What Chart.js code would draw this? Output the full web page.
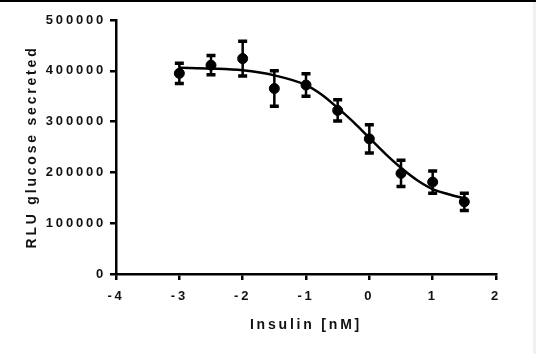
<!DOCTYPE html>
<html>
<head>
<meta charset="utf-8">
<script src="https://cdn.jsdelivr.net/npm/chart.js@4.4.0/dist/chart.umd.min.js"></script>
<style>
  body { margin: 0; background: #fff; }
  #wrap { position: relative; width: 536px; height: 354px; }
  #topline { position: absolute; left: 0; top: 0; width: 536px; height: 2px; background: #000; }
  #rightedge { position: absolute; right: 0; top: 2px; width: 3px; height: 352px; background: #f0f0f0; }
</style>
</head>
<body>
<div id="wrap">
  <canvas id="myChart" width="536" height="354"></canvas>
  <div id="topline"></div>
  <div id="rightedge"></div>
</div>
<script>
// measured points (log insulin dose) with error bars
const xDose = [-3, -2.5, -2, -1.5, -1, -0.5, 0, 0.5, 1, 1.5];
const meanRLU = [395000, 411000, 424000, 365000, 372000, 322000, 266000, 198000, 181000, 142000];
const errRLU = [20000, 19000, 34000, 35000, 22000, 21000, 28000, 26000, 22000, 17000];

// fitted curve
const fitX = [-3, -2.5, -2, -1.5, -1, -0.75, -0.5, -0.25, 0, 0.25, 0.5, 0.75, 1, 1.25, 1.5];
const fitY = [406000, 404500, 401000, 391000, 372000, 353000, 327000, 299000, 268000, 237000, 209000, 185000, 167000, 157000, 149000];

const fontFamily = "'Liberation Sans', Arial, sans-serif";

const spacing = {
  id: 'spacing',
  beforeUpdate(chart) { chart.ctx.letterSpacing = '2.8px'; },
  beforeDraw(chart) { chart.ctx.letterSpacing = '2.8px'; }
};

const errorBars = {
  id: 'errorBars',
  afterDatasetsDraw(chart) {
    const ctx = chart.ctx;
    const xs = chart.scales.x, ys = chart.scales.y;
    ctx.save();
    ctx.strokeStyle = '#000';
    xDose.forEach((d, i) => {
      const px = xs.getPixelForValue(d);
      const top = ys.getPixelForValue(meanRLU[i] + errRLU[i]);
      const bot = ys.getPixelForValue(meanRLU[i] - errRLU[i]);
      ctx.lineWidth = 2.5;
      ctx.beginPath();
      ctx.moveTo(px, top);
      ctx.lineTo(px, bot);
      ctx.stroke();
      ctx.lineWidth = 3.5;
      ctx.beginPath();
      ctx.moveTo(px - 4.5, top);
      ctx.lineTo(px + 4.5, top);
      ctx.moveTo(px - 4.5, bot);
      ctx.lineTo(px + 4.5, bot);
      ctx.stroke();
    });
    ctx.restore();
  }
};

const ctx = document.getElementById('myChart').getContext('2d');
const chart = new Chart(ctx, {
  type: 'scatter',
  data: {
    datasets: [
      {
        label: 'fit',
        data: fitX.map((x, i) => ({ x: x, y: fitY[i] })),
        showLine: true,
        borderColor: '#000',
        borderWidth: 2.5,
        pointRadius: 0,
        cubicInterpolationMode: 'monotone',
        order: 2
      },
      {
        label: 'RLU',
        data: xDose.map((x, i) => ({ x: x, y: meanRLU[i] })),
        backgroundColor: '#000',
        borderColor: '#000',
        pointRadius: 5,
        order: 1
      }
    ]
  },
  options: {
    responsive: false,
    animation: false,
    layout: { padding: { top: 20, right: 40, left: 0, bottom: 0 } },
    plugins: {
      legend: { display: false },
      tooltip: { enabled: false }
    },
    scales: {
      x: {
        type: 'linear',
        min: -4,
        max: 2,
        ticks: {
          stepSize: 1,
          color: '#111',
          padding: 9,
          font: { family: fontFamily, size: 13, weight: 'bold' }
        },
        grid: { drawOnChartArea: false, drawTicks: true, tickLength: 6, color: '#000', lineWidth: 2.5 },
        border: { display: true, color: '#000', width: 2.5 },
        title: {
          display: true,
          text: 'Insulin [nM]',
          color: '#111',
          padding: { top: 0, bottom: 20.5 },
          font: { family: fontFamily, size: 14, weight: 'bold' }
        },
        afterFit(scale) { scale.height = 80; }
      },
      y: {
        min: 0,
        max: 500000,
        ticks: {
          stepSize: 100000,
          color: '#111',
          padding: 4,
          callback: v => String(v),
          font: { family: fontFamily, size: 13, weight: 'bold' }
        },
        grid: { drawOnChartArea: false, drawTicks: true, tickLength: 6, color: '#000', lineWidth: 2.5 },
        border: { display: true, color: '#000', width: 2.5 },
        title: {
          display: true,
          text: 'RLU glucose secreted',
          color: '#111',
          padding: { top: 23.5, bottom: 0 },
          font: { family: fontFamily, size: 14, weight: 'bold' }
        },
        afterFit(scale) { scale.width = 116; }
      }
    }
  },
  plugins: [spacing, errorBars]
});
</script>
</body>
</html>
